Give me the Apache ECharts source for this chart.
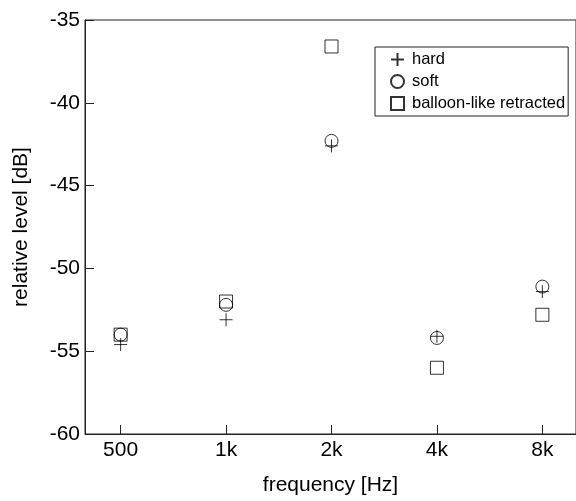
<!DOCTYPE html>
<html>
<head>
<meta charset="utf-8">
<script src="https://cdn.jsdelivr.net/npm/echarts@6/dist/echarts.min.js"></script>
<style>
  html, body { margin: 0; padding: 0; background: #fff; }
  #chart { width: 576px; height: 501px; }
</style>
</head>
<body>
<div id="chart"></div>
<script>
    // frequency bands (x positions are the band index)
    var freqLabels = ['500', '1k', '2k', '4k', '8k'];
    var hardVals = [-54.6, -53.1, -42.6, -54.1, -51.4];
    var softVals = [-54.0, -52.2, -42.3, -54.2, -51.1];
    var balloonVals = [-54.0, -52.0, -36.6, -56.0, -52.8];
    var yTicks = [-60, -55, -50, -45, -40, -35];

    function pairs(vals) {
        return vals.map(function (v, i) { return [i, v]; });
    }

    var font = '"Liberation Sans", Arial, Helvetica, sans-serif';
    var markStyle = { color: 'rgba(0,0,0,0)', borderColor: '#000', borderWidth: 1 };
    var plusPath = 'path://M6,0L6,12M0,6L12,6';

    var option = {
        animation: false,
        backgroundColor: '#fff',
        grid: {
            left: 85, top: 20, bottom: 66, right: -5,
            show: true, borderColor: '#222', borderWidth: 1
        },
        legend: {
            orient: 'vertical',
            left: 375, top: 47,
            padding: [3, 3, 3, 15],
            itemWidth: 13, itemHeight: 13, itemGap: 3,
            borderColor: '#222', borderWidth: 1, borderRadius: 0,
            backgroundColor: '#fff',
            textStyle: { fontFamily: font, fontSize: 16.5, lineHeight: 19, color: '#000', padding: [0, 0, 0, 3] },
            data: ['hard', 'soft', 'balloon-like retracted']
        },
        xAxis: {
            type: 'value',
            min: -0.338, max: 4.319,
            name: 'frequency [Hz]',
            nameLocation: 'middle',
            nameGap: 41,
            nameTextStyle: { fontFamily: font, fontSize: 21, color: '#000' },
            axisLine: { show: true, onZero: false, lineStyle: { color: '#222', width: 1 } },
            axisTick: { show: true, inside: true, length: 9, lineStyle: { color: '#222' }, customValues: [0, 1, 2, 3, 4] },
            axisLabel: {
                fontFamily: font, fontSize: 21, color: '#000', margin: 6,
                customValues: [0, 1, 2, 3, 4],
                formatter: function (v) { return freqLabels[Math.round(v)]; }
            },
            splitLine: { show: false }
        },
        yAxis: {
            type: 'value',
            min: yTicks[0], max: yTicks[yTicks.length - 1], interval: 5,
            name: 'relative level [dB]',
            nameLocation: 'middle',
            nameGap: 53,
            nameTextStyle: { fontFamily: font, fontSize: 21, color: '#000' },
            axisLine: { show: true, onZero: false, lineStyle: { color: '#222', width: 1 } },
            axisTick: { show: true, inside: true, length: 9, lineStyle: { color: '#222' } },
            axisLabel: { fontFamily: font, fontSize: 21, color: '#000', margin: 5 },
            splitLine: { show: false }
        },
        series: [
            {
                name: 'hard', type: 'scatter',
                symbol: plusPath, symbolSize: 13,
                itemStyle: markStyle,
                data: pairs(hardVals)
            },
            {
                name: 'soft', type: 'scatter',
                symbol: 'circle', symbolSize: 13,
                itemStyle: markStyle,
                data: pairs(softVals)
            },
            {
                name: 'balloon-like retracted', type: 'scatter',
                symbol: 'rect', symbolSize: 13,
                itemStyle: markStyle,
                data: pairs(balloonVals)
            }
        ]
    };

    echarts.init(document.getElementById('chart')).setOption(option);
</script>
</body>
</html>
